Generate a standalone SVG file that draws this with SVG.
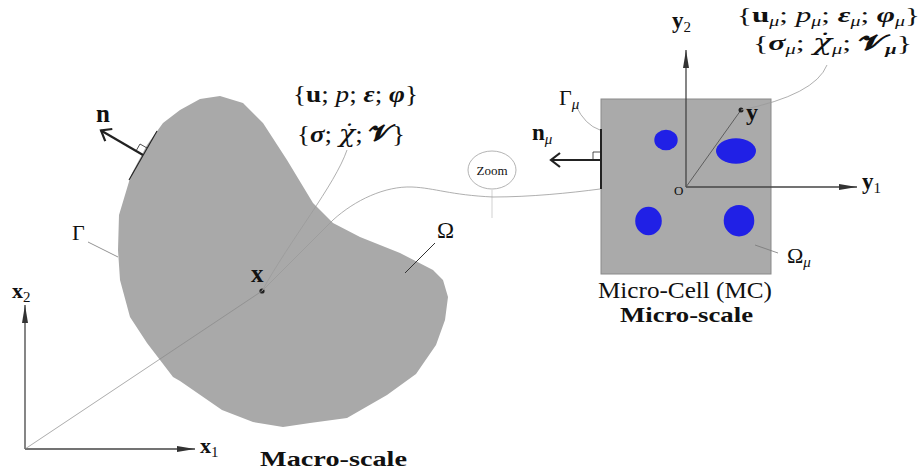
<svg xmlns="http://www.w3.org/2000/svg" width="924" height="473" viewBox="0 0 924 473">
<defs>
<style>
text{font-family:"Liberation Serif","DejaVu Serif",serif;fill:#111}
.b{font-weight:bold}
.i{font-style:italic}
.bi{font-weight:bold;font-style:italic}
.chi{font-family:"DejaVu Serif",serif;font-style:italic}
.thin{fill:none;stroke:#9a9a9a;stroke-width:0.8}
.lead{fill:none;stroke:#777;stroke-width:0.8}
.axis{fill:none;stroke:#444;stroke-width:1.3}
.vec{fill:none;stroke:#222;stroke-width:2.2}
.incl{fill:#2020e6}
</style>
<marker id="tri" markerWidth="18" markerHeight="6" refX="18" refY="3" orient="auto" markerUnits="userSpaceOnUse"><path d="M0,0 L18,3 L0,6 z" fill="#333"/></marker>
<marker id="open" markerWidth="12" markerHeight="14" refX="9" refY="7" orient="auto" markerUnits="userSpaceOnUse" overflow="visible"><path d="M0,0 L9,7 L0,14" fill="none" stroke="#222" stroke-width="2.2"/></marker>
</defs>

<g id="macro-domain">
<path d="M220,96 L243,103 L263,123 L287,160 L313,203 L333,223 L360,237 L400,253 L433,270 L443,280 L448,297 L445,320 L436,345 L416,374 L387,395 L347,418 L310,423 L283,427 L253,422 L222,410 L180,381 L173,377 L147,343 L130,317 L120,280 L118,250 L119,215 L125,195 L131,175 L147,145 L163,123 L180,110 L200,99 Z" fill="#a9a9a9"/>
<line x1="129" y1="180" x2="157" y2="131" stroke="#222" stroke-width="1.1"/>
<path d="M147,148 L140,144 L136,151" fill="none" stroke="#222" stroke-width="0.8"/>
<line x1="143" y1="155" x2="101" y2="130.5" class="vec" marker-end="url(#open)"/>
<text x="96" y="122" class="b" font-size="25">n</text>
<line x1="88" y1="242" x2="118" y2="257" class="lead"/>
<text x="72" y="240" font-size="22">Γ</text>
<line x1="435" y1="243" x2="405" y2="273" stroke="#333" stroke-width="1"/>
<text x="437" y="238" font-size="23">Ω</text>
<circle cx="262" cy="291" r="2.6" fill="#222"/>
<text x="251" y="282" class="b" font-size="25">x</text>
</g>

<g id="macro-axes">
<line x1="25" y1="449" x2="195" y2="449" class="axis" marker-end="url(#tri)"/>
<line x1="25" y1="449" x2="25" y2="305" class="axis" marker-end="url(#tri)"/>
<text x="12" y="298" font-size="22"><tspan class="b">x</tspan><tspan font-size="15" dy="4">2</tspan></text>
<text x="200" y="453" font-size="22"><tspan class="b">x</tspan><tspan font-size="15" dy="4">1</tspan></text>
<text x="260" y="466" class="b" font-size="22" textLength="147" lengthAdjust="spacingAndGlyphs">Macro-scale</text>
</g>

<g id="macro-fields">
<text x="293" y="102" font-size="24" textLength="125" lengthAdjust="spacingAndGlyphs">{<tspan class="b">u</tspan>; <tspan class="i">p</tspan>; <tspan class="bi">ε</tspan>; <tspan class="bi">φ</tspan>}</text>
<text x="297" y="142" font-size="24" textLength="108" lengthAdjust="spacingAndGlyphs">{<tspan class="bi">σ</tspan>; <tspan class="chi">χ̇</tspan>; <tspan class="b">𝓥</tspan>}</text>
</g>

<g id="zoom">
<ellipse cx="492" cy="170" rx="24" ry="19" fill="#fff" stroke="#aaa" stroke-width="0.9"/>
<text x="492" y="175" font-size="13" text-anchor="middle">Zoom</text>
<line x1="492" y1="190" x2="492" y2="218" stroke="#ccc" stroke-width="0.9"/>
</g>

<g id="micro-cell">
<rect x="601" y="99" width="170" height="175" fill="#aaaaaa" stroke="#8a8a8a" stroke-width="1"/>
<ellipse cx="666" cy="140" rx="11.7" ry="10.3" class="incl"/>
<ellipse cx="736" cy="151" rx="20" ry="12.7" class="incl"/>
<ellipse cx="648.5" cy="221" rx="13.3" ry="14.3" class="incl"/>
<ellipse cx="739" cy="220.7" rx="15.3" ry="15.7" class="incl"/>
<line x1="601" y1="129" x2="601" y2="189" stroke="#222" stroke-width="2"/>
<path d="M601,152 L593,152 L593,160" fill="none" stroke="#222" stroke-width="0.8"/>
<line x1="601" y1="160" x2="551" y2="160" class="vec" marker-end="url(#open)"/>
<text x="532" y="140" font-size="23"><tspan class="b">n</tspan><tspan class="i" font-size="15" dy="4">μ</tspan></text>
<path d="M576,106 Q585,125 600,130" class="thin"/>
<text x="559" y="105" font-size="22">Γ<tspan class="i" font-size="15" dy="4">μ</tspan></text>
<line x1="755" y1="245" x2="778" y2="253" class="lead"/>
<text x="787" y="263" font-size="22">Ω<tspan class="i" font-size="15" dy="4">μ</tspan></text>
<text x="598" y="298" font-size="23" textLength="174" lengthAdjust="spacingAndGlyphs">Micro-Cell (MC)</text>
<text x="620" y="322" class="b" font-size="21" textLength="133" lengthAdjust="spacingAndGlyphs">Micro-scale</text>
</g>

<g id="micro-axes">
<line x1="686" y1="187" x2="857" y2="187" class="axis" marker-end="url(#tri)"/>
<line x1="686" y1="187" x2="686" y2="50" class="axis" marker-end="url(#tri)"/>
<text x="674" y="195" font-size="13">O</text>
<text x="672" y="28" font-size="23"><tspan class="b">y</tspan><tspan font-size="15" dy="4">2</tspan></text>
<text x="862" y="189" font-size="23"><tspan class="b">y</tspan><tspan font-size="15" dy="4">1</tspan></text>
<line x1="686" y1="187" x2="741" y2="110" stroke="#555" stroke-width="0.9"/>
<circle cx="741" cy="110" r="2.5" fill="#222"/>
<text x="746" y="120" class="b" font-size="24">y</text>
</g>

<g id="micro-fields">
<text x="737" y="22" font-size="22" textLength="183" lengthAdjust="spacingAndGlyphs">{<tspan class="b">u</tspan><tspan class="i" font-size="14" dy="4">μ</tspan><tspan dy="-4">; </tspan><tspan class="i">p</tspan><tspan class="i" font-size="14" dy="4">μ</tspan><tspan dy="-4">; </tspan><tspan class="bi">ε</tspan><tspan class="i" font-size="14" dy="4">μ</tspan><tspan dy="-4">; </tspan><tspan class="bi">φ</tspan><tspan class="i" font-size="14" dy="4">μ</tspan><tspan dy="-4">}</tspan></text>
<text x="753" y="50" font-size="22" textLength="159" lengthAdjust="spacingAndGlyphs">{<tspan class="bi">σ</tspan><tspan class="i" font-size="14" dy="4">μ</tspan><tspan dy="-4">; </tspan><tspan class="chi">χ̇</tspan><tspan class="i" font-size="14" dy="4">μ</tspan><tspan dy="-4">; </tspan><tspan class="b">𝓥</tspan><tspan class="bi" font-size="14" dy="4">μ</tspan><tspan dy="-4">}</tspan></text>
</g>

<g id="connectors">
<line x1="262" y1="291" x2="25" y2="449" stroke="#888" stroke-width="0.7"/>
<path d="M262,291 C290,240 335,185 347,150" class="thin" stroke="#8a8a8a"/>
<path d="M262,291 L333,220 C355,200 385,186 412,187 C435,188 450,195 493,197 C530,197 570,193 600,189" class="thin"/>
<path d="M741,110 Q815,95 827,65" class="thin"/>
</g>
</svg>
